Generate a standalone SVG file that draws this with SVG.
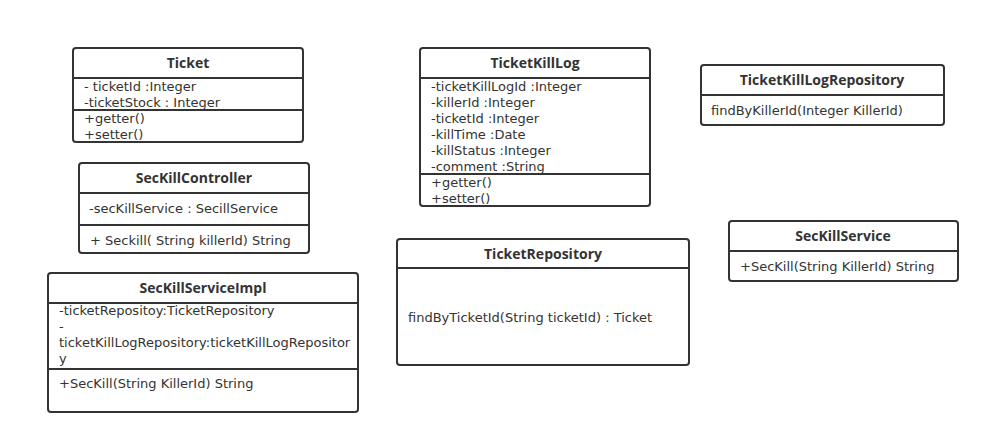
<svg xmlns="http://www.w3.org/2000/svg" width="990" height="443" viewBox="0 0 990 443">
<style>
.box{fill:#fff;stroke:#333;stroke-width:2}
.ln{stroke:#333;stroke-width:2}
text{font-family:"DejaVu Sans","Liberation Sans",Arial,sans-serif;font-size:13px;fill:#333}
.t{font-family:"Open Sans","Liberation Sans",Arial,sans-serif;font-size:14px;font-weight:bold;text-anchor:middle}
</style>
<rect width="990" height="443" fill="#fff"/>
<g id="Ticket">
<rect class="box" x="73" y="48" width="230" height="94" rx="3"/>
<line class="ln" x1="73" y1="78" x2="303" y2="78"/>
<line class="ln" x1="73" y1="110" x2="303" y2="110"/>
<text class="t" x="188" y="68">Ticket</text>
<text x="84" y="91">- ticketId :Integer<tspan x="84" dy="16">-ticketStock : Integer</tspan></text>
<text x="84" y="123">+getter()<tspan x="84" dy="16">+setter()</tspan></text>
</g>
<g id="SecKillController">
<rect class="box" x="79" y="163" width="230" height="90" rx="3"/>
<line class="ln" x1="79" y1="193" x2="309" y2="193"/>
<line class="ln" x1="79" y1="225" x2="309" y2="225"/>
<text class="t" x="194" y="183">SecKillController</text>
<text x="89" y="213">-secKillService : SecillService</text>
<text x="90" y="245">+ Seckill( String killerId) String</text>
</g>
<g id="SecKillServiceImpl">
<rect class="box" x="48" y="273" width="310" height="139" rx="3"/>
<line class="ln" x1="48" y1="303" x2="358" y2="303"/>
<line class="ln" x1="48" y1="369" x2="358" y2="369"/>
<text class="t" x="203" y="293">SecKillServiceImpl</text>
<text x="59" y="315">-ticketRepositoy:TicketRepository<tspan x="59" dy="16">-</tspan><tspan x="59" dy="16">ticketKillLogRepository:ticketKillLogRepositor</tspan><tspan x="59" dy="16">y</tspan></text>
<text x="59" y="388">+SecKill(String KillerId) String</text>
</g>
<g id="TicketKillLog">
<rect class="box" x="420" y="48" width="230" height="158" rx="3"/>
<line class="ln" x1="420" y1="78" x2="650" y2="78"/>
<line class="ln" x1="420" y1="174" x2="650" y2="174"/>
<text class="t" x="535" y="68">TicketKillLog</text>
<text x="431" y="91">-ticketKillLogId :Integer<tspan x="431" dy="16">-killerId :Integer</tspan><tspan x="431" dy="16">-ticketId :Integer</tspan><tspan x="431" dy="16">-killTime :Date</tspan><tspan x="431" dy="16">-killStatus :Integer</tspan><tspan x="431" dy="16">-comment :String</tspan></text>
<text x="431" y="187">+getter()<tspan x="431" dy="16">+setter()</tspan></text>
</g>
<g id="TicketRepository">
<rect class="box" x="397" y="239" width="292" height="126" rx="3"/>
<line class="ln" x1="397" y1="268" x2="689" y2="268"/>
<text class="t" x="543" y="259">TicketRepository</text>
<text x="408" y="322">findByTicketId(String ticketId) : Ticket</text>
</g>
<g id="TicketKillLogRepository">
<rect class="box" x="701" y="65" width="243" height="60" rx="3"/>
<line class="ln" x1="701" y1="95" x2="944" y2="95"/>
<text class="t" x="822" y="85">TicketKillLogRepository</text>
<text x="711" y="115">findByKillerId(Integer KillerId)</text>
</g>
<g id="SecKillService">
<rect class="box" x="729" y="221" width="229" height="60" rx="3"/>
<line class="ln" x1="729" y1="251" x2="958" y2="251"/>
<text class="t" x="843" y="241">SecKillService</text>
<text x="740" y="271">+SecKill(String KillerId) String</text>
</g>
<g id="connectors"></g>
</svg>
